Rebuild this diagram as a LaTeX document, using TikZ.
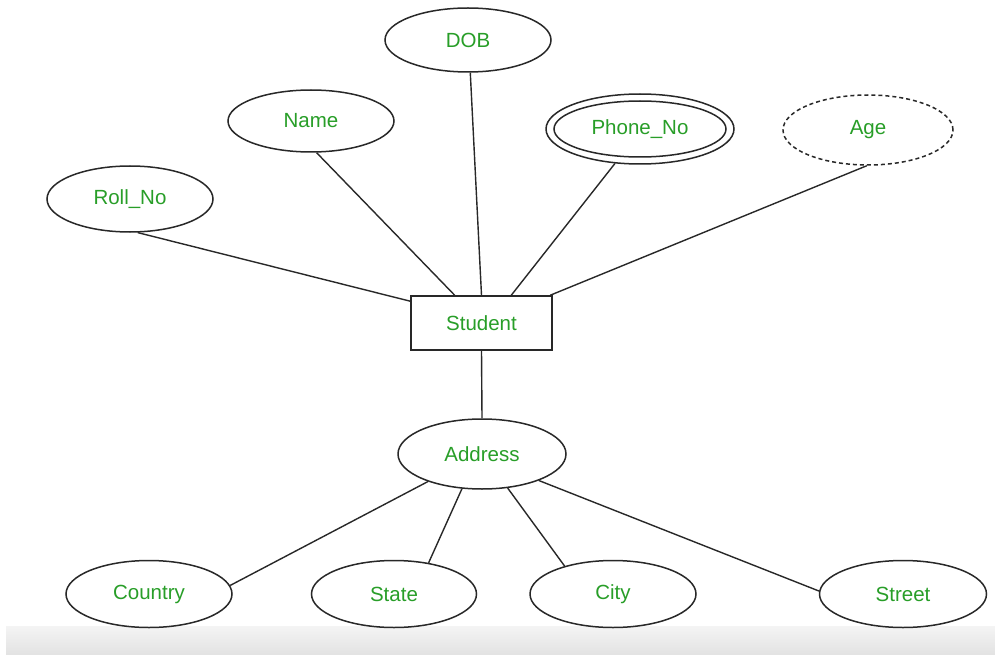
\documentclass[tikz,border=0pt]{standalone}
\usepackage{fontspec}
\setmainfont{Liberation Sans}
\usetikzlibrary{shapes.geometric}
\definecolor{attrgreen}{RGB}{40,158,40}
\definecolor{edgegrey}{RGB}{40,40,40}
\tikzset{
  attr/.style={ellipse, draw=edgegrey, line width=1.5pt, inner sep=0pt,
    text=attrgreen, font=\fontsize{20.5}{22}\selectfont, fill=white},
  entity/.style={rectangle, draw=edgegrey, line width=1.5pt, inner sep=0pt,
    minimum width=141pt, minimum height=54pt, text=attrgreen,
    font=\fontsize{20.5}{22}\selectfont},
  link/.style={draw=edgegrey, line width=1.4pt}
}
\begin{document}
\begin{tikzpicture}[x=1pt, y=-1pt]
  \useasboundingbox (0,0) rectangle (995,655);
  \fill[white] (0,0) rectangle (995,655);
  \shade[top color={rgb,255:red,244;green,244;blue,244}, bottom color={rgb,255:red,226;green,226;blue,226}]
    (6,626) rectangle (995,655);

  % entity
  \node[entity] (student) at (481.5,323) {Student};

  % attributes of Student
  \node[attr, minimum width=166pt, minimum height=64pt] (dob) at (468,40) {DOB};
  \node[attr, minimum width=166pt, minimum height=62pt] (name) at (311,121) {Name};
  \node[attr, minimum width=166pt, minimum height=66pt] (roll) at (130,199) {Roll\_No};
  \node[attr, minimum width=188pt, minimum height=70pt] (phone) at (640,129) {};
  \node[attr, minimum width=172pt, minimum height=56pt] (phonein) at (phone.center) {Phone\_No};
  \node[attr, minimum width=170pt, minimum height=70pt, dash pattern=on 4pt off 3pt] (age) at (868,130) {Age};

  % composite attribute and its parts
  \node[attr, minimum width=168pt, minimum height=70pt] (address) at (482,454) {Address};
  \node[attr, minimum width=166pt, minimum height=67pt] (country) at (149,594) {Country};
  \node[attr, minimum width=165pt, minimum height=67pt] (state) at (394,594) {State};
  \node[attr, minimum width=166pt, minimum height=67pt] (city) at (613,594) {City};
  \node[attr, minimum width=167pt, minimum height=67pt] (street) at (903,594) {Street};

  % connectors
  \draw[link] (roll.-77) -- (student.163);
  \draw[link] (name.-80) -- (student.134);
  \draw[link] (dob.-86) -- (student.north);
  \draw[link] (phone.-126) -- (student.43);
  \draw[link] (age.-92) -- (student.22);
  \draw[link] (student.south) -- (address.north);
  \draw[link] (address.-153) -- (country.6);
  \draw[link] (address.-120) -- (state.42);
  \draw[link] (address.-53) -- (city.150);
  \draw[link] (address.-25) -- (street.178);
\end{tikzpicture}
\end{document}
